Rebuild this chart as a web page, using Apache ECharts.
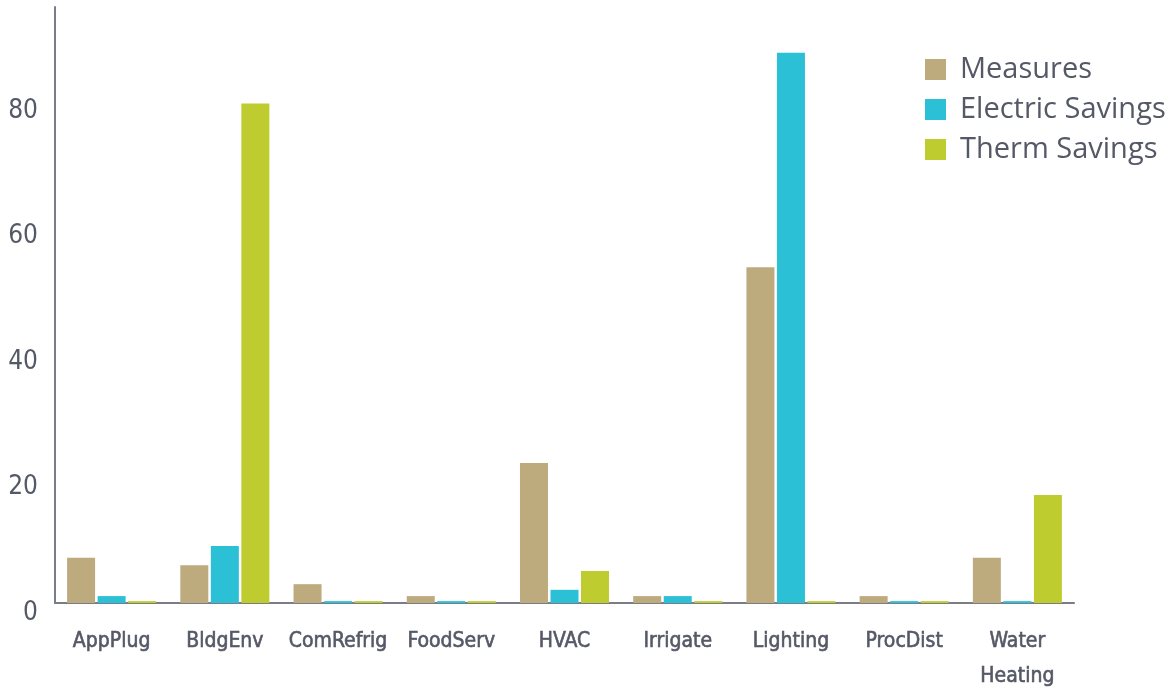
<!DOCTYPE html>
<html>
<head>
<meta charset="utf-8">
<style>
    html, body { margin: 0; padding: 0; background: #fff; }
    #chart { width: 1170px; height: 689px; }
</style>
<script src="https://cdn.jsdelivr.net/npm/echarts@6/dist/echarts.min.js"></script>
</head>
<body>
<div id="chart"></div>
<script>
    // categories along the x axis
    var categories = ['AppPlug', 'BldgEnv', 'ComRefrig', 'FoodServ', 'HVAC', 'Irrigate', 'Lighting', 'ProcDist', 'Water\nHeating'];
    // series values
    var measures = [7.2, 6.0, 3.0, 1.1, 22.3, 1.1, 53.5, 1.1, 7.2];
    var electricSavings = [1.1, 9.1, 0.3, 0.3, 2.1, 1.1, 87.7, 0.3, 0.3];
    var thermSavings = [0.3, 79.6, 0.3, 0.3, 5.1, 0.3, 0.3, 0.3, 17.2];
    var seriesNames = ['Measures', 'Electric Savings', 'Therm Savings'];
    var colors = ['#bdab7e', '#2bc0d5', '#bfcc2f'];

    var labelColor = '#555866';
    var axisColor = '#7a7d88';
    var condensed = '"DejaVu Sans Condensed", "DejaVu Sans"';

    var chart = echarts.init(document.getElementById('chart'));

    function bar(name, data, color) {
        return {
            name: name,
            type: 'bar',
            data: data,
            barWidth: 28,
            barGap: '9%',
            itemStyle: { color: color },
            emphasis: { disabled: true }
        };
    }

    var option = {
        animation: false,
        // keep the plot box fixed, labels may hang outside it
        grid: { left: 55, right: 96, top: 7, bottom: 86, outerBoundsMode: 'none' },
        legend: {
            orient: 'vertical',
            left: 925,
            top: 55,
            padding: 0,
            itemWidth: 21,
            itemHeight: 21,
            itemGap: 11,
            icon: 'rect',
            data: seriesNames,
            textStyle: {
                color: labelColor,
                fontFamily: '"Open Sans"',
                fontSize: 29,
                lineHeight: 29,
                padding: [0, 0, 0, 9]
            }
        },
        xAxis: {
            type: 'category',
            data: categories,
            axisLine: { lineStyle: { color: axisColor, width: 2 } },
            axisTick: { show: false },
            axisLabel: {
                interval: 0,
                margin: 21,
                color: labelColor,
                fontFamily: condensed,
                fontSize: 21,
                lineHeight: 35,
                textBorderColor: labelColor,
                textBorderWidth: 0.6
            }
        },
        yAxis: {
            type: 'value',
            min: 0,
            max: 95,
            interval: 20,
            splitLine: { show: false },
            axisTick: { show: false },
            axisLine: { show: true, lineStyle: { color: axisColor, width: 2 } },
            axisLabel: {
                showMaxLabel: false,
                margin: 17,
                color: labelColor,
                fontFamily: condensed,
                fontSize: 26,
                verticalAlign: 'top',
                lineHeight: 20
            }
        },
        series: [
            bar(seriesNames[0], measures, colors[0]),
            bar(seriesNames[1], electricSavings, colors[1]),
            bar(seriesNames[2], thermSavings, colors[2])
        ]
    };

    chart.setOption(option);
</script>
</body>
</html>
